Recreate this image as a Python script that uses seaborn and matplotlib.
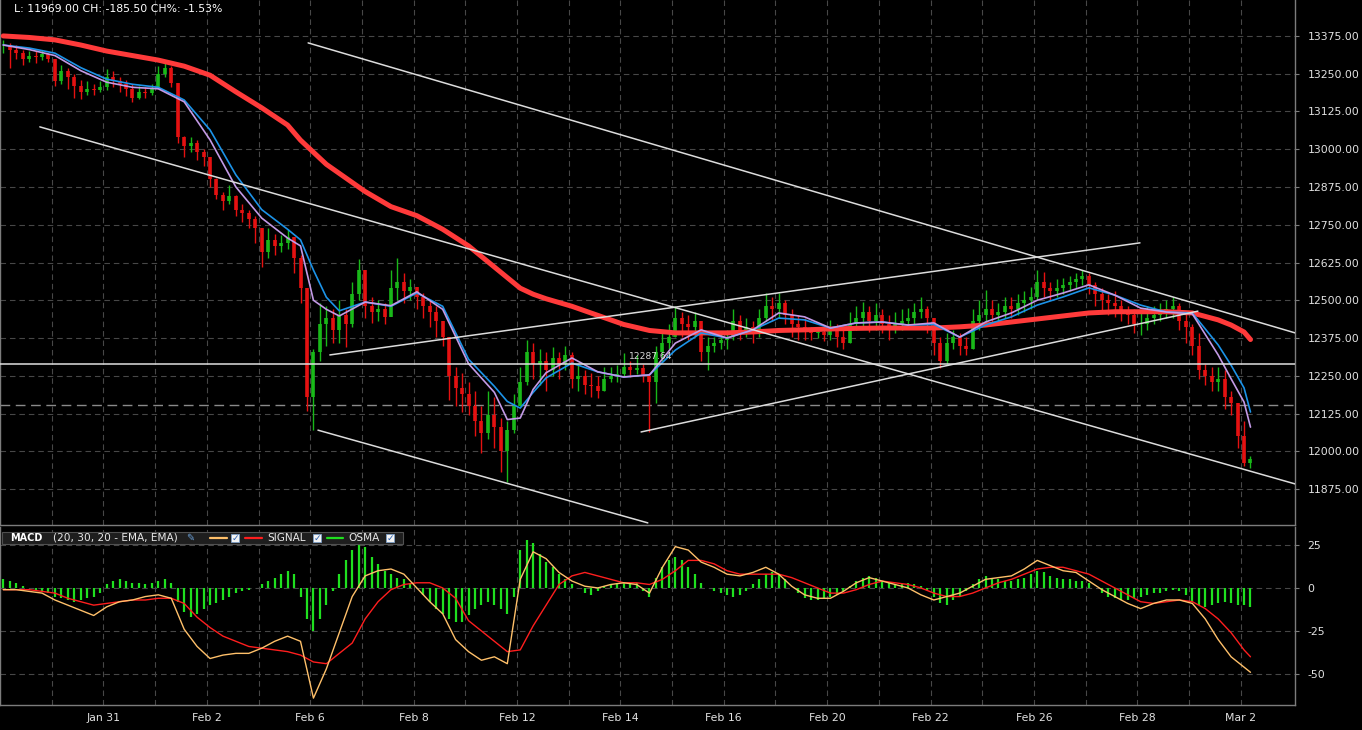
import numpy as np
import pandas as pd
import matplotlib
matplotlib.use("Agg")
import matplotlib.pyplot as plt
import seaborn as sns
from matplotlib.patches import Rectangle
from matplotlib.lines import Line2D

# ---------------- data ----------------
day_labels = ["Jan 29", "Jan 30", "Jan 31", "Feb 1", "Feb 2", "Feb 5", "Feb 6", "Feb 7",
              "Feb 8", "Feb 9", "Feb 12", "Feb 13", "Feb 14", "Feb 15", "Feb 16", "Feb 19",
              "Feb 20", "Feb 21", "Feb 22", "Feb 23", "Feb 26", "Feb 27", "Feb 28", "Mar 1", "Mar 2"]
bars_per_day = 8

close = [
    13345, 13330, 13320, 13300, 13310, 13305, 13315, 13300,
    13225, 13260, 13240, 13210, 13190, 13200, 13195, 13205,
    13240, 13225, 13215, 13200, 13170, 13190, 13185, 13200,
    13250, 13270, 13220, 13040, 13010, 13020, 12990, 12975,
    12900, 12850, 12830, 12845, 12800, 12790, 12770, 12740,
    12660, 12700, 12680, 12690, 12710, 12640, 12540, 12180,
    12330, 12420, 12440, 12400, 12450, 12420, 12520, 12600,
    12480, 12460, 12470, 12445, 12540, 12560, 12530, 12545,
    12510, 12480, 12460, 12430, 12380, 12250, 12210, 12190,
    12150, 12100, 12060, 12120, 12080, 12000, 12070, 12150,
    12230, 12330, 12290, 12300, 12270, 12310, 12290, 12320,
    12240, 12250, 12220, 12215, 12200, 12240, 12250, 12255,
    12280, 12270, 12275, 12250, 12230, 12330, 12360, 12380,
    12440, 12420, 12410, 12430, 12330, 12350, 12360, 12370,
    12380, 12430, 12400, 12410, 12390, 12440, 12480, 12470,
    12490, 12450, 12420, 12410, 12400, 12390, 12395, 12385,
    12410, 12380, 12360, 12420, 12440, 12460, 12430, 12450,
    12420, 12400, 12420, 12430, 12440, 12460, 12470, 12440,
    12360, 12300, 12360, 12380, 12350, 12340, 12430, 12450,
    12470, 12450, 12460, 12480, 12470, 12490, 12500, 12510,
    12560, 12540, 12530, 12540, 12550, 12560, 12570, 12580,
    12550, 12520, 12500, 12490, 12480, 12460, 12450, 12420,
    12420, 12440, 12450, 12460, 12470, 12480, 12430, 12410,
    12350, 12270, 12250, 12230, 12240, 12180, 12160, 12050,
    11960, 11975,
]
high = [
    13360, 13350, 13345, 13330, 13325, 13325, 13330, 13320,
    13300, 13280, 13270, 13250, 13230, 13225, 13215, 13225,
    13265, 13260, 13240, 13230, 13215, 13210, 13205, 13215,
    13275, 13290, 13275, 13220, 13045, 13040, 13030, 13000,
    12960, 12905, 12860, 12880, 12850, 12820, 12800, 12780,
    12735, 12740, 12720, 12715, 12735, 12700, 12650, 12540,
    12340, 12490, 12480, 12470, 12500, 12470, 12560, 12635,
    12560, 12510, 12500, 12490, 12600, 12640, 12590, 12570,
    12545, 12525, 12500, 12480, 12430, 12320, 12280, 12260,
    12230, 12200, 12150, 12200, 12180, 12110, 12100, 12190,
    12280, 12370, 12360, 12340, 12330, 12345, 12330, 12350,
    12330, 12290, 12270, 12260, 12250, 12280, 12280, 12285,
    12325, 12300, 12320, 12290, 12260, 12350, 12390, 12420,
    12480, 12460, 12450, 12460, 12420, 12380, 12380, 12390,
    12400, 12470, 12450, 12440, 12430, 12470, 12525, 12510,
    12525, 12500, 12470, 12450, 12440, 12410, 12410, 12405,
    12435, 12420, 12400, 12460, 12480, 12495, 12480, 12490,
    12470, 12450, 12460, 12470, 12475, 12490, 12510, 12480,
    12410, 12380, 12390, 12400, 12390, 12380, 12470, 12500,
    12535, 12500, 12490, 12510, 12510, 12520, 12530, 12545,
    12600, 12595, 12560, 12570, 12575, 12580, 12590, 12600,
    12590, 12560, 12540, 12520, 12530, 12500, 12480, 12470,
    12460, 12480, 12480, 12490, 12500, 12510, 12490, 12460,
    12420, 12390, 12290, 12280, 12280, 12270, 12200, 12150,
    12100, 11985,
]
low = [
    13320, 13270, 13300, 13280, 13290, 13285, 13295, 13290,
    13210, 13215, 13200, 13170, 13165, 13180, 13180, 13190,
    13195, 13205, 13190, 13175, 13155, 13165, 13170, 13180,
    13215, 13240, 13205, 13020, 12975, 12990, 12965, 12945,
    12875, 12835, 12800, 12820, 12780, 12760, 12740, 12690,
    12610, 12640, 12650, 12660, 12670, 12590, 12490, 12135,
    12070, 12300, 12350, 12360, 12360, 12345, 12410, 12500,
    12440, 12425, 12430, 12420, 12480, 12500, 12490, 12500,
    12470, 12440, 12410, 12380, 12350, 12170, 12150, 12130,
    12120, 12050, 11995, 12040, 12010, 11930, 11900, 12060,
    12150, 12220, 12240, 12220, 12200, 12250, 12240, 12270,
    12210, 12200, 12190, 12180, 12175, 12200, 12230, 12230,
    12250, 12245, 12255, 12230, 12065, 12160, 12300, 12340,
    12380, 12380, 12370, 12380, 12300, 12270, 12330, 12340,
    12340, 12370, 12370, 12380, 12360, 12380, 12430, 12430,
    12440, 12420, 12380, 12370, 12370, 12370, 12375, 12365,
    12370, 12345, 12340, 12360, 12400, 12410, 12395, 12400,
    12390, 12370, 12390, 12400, 12410, 12420, 12440, 12390,
    12320, 12275, 12290, 12340, 12320, 12320, 12340, 12400,
    12420, 12420, 12430, 12440, 12440, 12450, 12460, 12470,
    12500, 12510, 12500, 12510, 12520, 12530, 12540, 12550,
    12520, 12480, 12460, 12450, 12445, 12430, 12420, 12390,
    12385, 12400, 12420, 12430, 12440, 12440, 12400, 12360,
    12320, 12240, 12220, 12200, 12200, 12140, 12120, 12010,
    11950, 11945,
]

# moving averages sampled at these bar numbers
ma_bar = [0, 4, 8, 12, 16, 20, 24, 28, 32, 36, 40, 44,
          46, 48, 50,
          52, 56, 60, 64, 68, 72, 76,
          78, 80, 82,
          84, 88, 92, 96, 100, 104, 108, 112, 116, 120, 124, 128, 132, 136,
          140, 144, 148, 152, 156, 160, 164, 168, 172, 176, 180, 184, 188,
          190, 192, 193]
ma_slow = [13375, 13370, 13362, 13345, 13325, 13310, 13295, 13275, 13245, 13190, 13137, 13080,
           13030, 12990, 12950,
           12920, 12860, 12810, 12780, 12735, 12680, 12610,
           12575, 12540, 12520,
           12505, 12480, 12450, 12420, 12400, 12392, 12392, 12392, 12395, 12400, 12402, 12405, 12407, 12408,
           12408, 12408, 12412, 12418, 12428, 12438, 12448, 12458, 12462, 12462, 12462, 12458, 12435,
           12418, 12395, 12370]
ema_blue = [13345, 13335, 13318, 13270, 13232, 13215, 13205, 13163, 13064, 12915, 12800, 12735,
            12700, 12600, 12510,
            12465, 12494, 12480, 12524, 12480, 12305, 12215,
            12165, 12143, 12195,
            12243, 12292, 12263, 12246, 12253, 12335, 12392, 12375, 12402, 12441, 12435, 12408, 12425, 12428,
            12418, 12420, 12378, 12418, 12445, 12484, 12511, 12541, 12517, 12484, 12461, 12458, 12352,
            12285, 12210, 12130]
ema_violet = [13345, 13330, 13310, 13260, 13222, 13205, 13200, 13157, 13031, 12875, 12772, 12706,
              12680, 12500, 12470,
              12448, 12494, 12482, 12528, 12470, 12290, 12195,
              12105, 12110, 12205,
              12260, 12309, 12263, 12246, 12253, 12358, 12402, 12375, 12402, 12458, 12445, 12408, 12425, 12428,
              12418, 12425, 12378, 12428, 12458, 12500, 12524, 12551, 12517, 12474, 12461, 12455, 12319,
              12240, 12163, 12080]

# MACD (20, 30, 20) lines sampled every 2 bars (plus the last bar)
macd_line = [-1, -1, -2, -3, -7, -10, -13, -16, -11, -8,
             -7, -5, -4, -6, -24, -34, -41, -39, -38, -38,
             -35, -31, -28, -31, -64, -47, -26, -5, 7, 10,
             11, 8, 0, -8, -15, -30, -37, -42, -40, -44,
             5, 21, 17, 9, 4, 1, 0, 2, 3, 2,
             -3, 12, 24, 22, 15, 12, 8, 7, 9, 12,
             8, 1, -4, -6, -6, -2, 3, 6, 4, 2,
             0, -4, -7, -5, -3, 1, 5, 6, 7, 11,
             16, 13, 10, 9, 4, -1, -5, -9, -12, -9,
             -7, -7, -9, -18, -30, -40, -46, -49]
signal_line = [-1, -1, -1, -2, -3, -6, -8, -10, -9, -8,
               -7, -7, -6, -6, -9, -17, -23, -28, -31, -34,
               -35, -36, -37, -39, -43, -44, -38, -32, -18, -8,
               -1, 2, 3, 3, 0, -6, -19, -25, -31, -37,
               -36, -22, -10, 2, 7, 9, 7, 5, 3, 3,
               2, 5, 10, 16, 16, 14, 10, 8, 8, 8,
               8, 6, 3, 0, -3, -3, -1, 2, 4, 3,
               2, 0, -3, -5, -5, -3, 0, 3, 5, 8,
               11, 12, 12, 10, 8, 4, 0, -4, -8, -9,
               -8, -7, -8, -12, -18, -26, -36, -40]
# OSMA histogram, one value per bar
osma = [
    5, 4, 3, 1, 0, -1, -2, -3,
    -5, -6, -7, -8, -7, -6, -5, -3,
    2, 4, 5, 4, 3, 3, 2, 3,
    4, 5, 3, -8, -14, -17, -15, -12,
    -10, -9, -7, -5, -3, -2, -1, 0,
    2, 4, 6, 8, 10, 8, -5, -18,
    -25, -18, -10, -2, 8, 16, 22, 26,
    24, 18, 14, 10, 8, 6, 5, 3,
    0, -4, -8, -12, -15, -18, -20, -20,
    -16, -12, -10, -8, -10, -12, -15, -5,
    22, 28, 26, 20, 15, 12, 8, 5,
    2, 0, -3, -4, -2, 1, 2, 3,
    3, 2, 3, -2, -5, 6, 12, 16,
    18, 16, 12, 8, 3, 0, -2, -3,
    -4, -5, -4, -2, 2, 5, 8, 9,
    8, 5, 0, -3, -6, -7, -7, -6,
    -5, -4, -2, 1, 4, 6, 7, 6,
    4, 3, 2, 2, 3, 2, 1, -1,
    -5, -9, -10, -7, -5, -2, 2, 5,
    7, 6, 5, 4, 4, 5, 6, 8,
    10, 9, 7, 6, 5, 5, 4, 4,
    3, 0, -3, -5, -6, -7, -7, -6,
    -5, -4, -3, -3, -2, -1, -2, -4,
    -8, -10, -11, -10, -9, -8, -9, -10,
    -10, -11,
]

# drawn trend lines: (day0, price0, day1, price1)
trend_lines = [
    (5.96, 13352, 25.05, 12392),
    (0.77, 13074, 25.05, 11892),
    (6.15, 12070, 12.53, 11763),
    (6.38, 12319, 22.05, 12690),
    (12.40, 12064, 23.17, 12464),
]
hline_level = 12287.64
prev_close = 12154.5
header_text = "L: 11969.00 CH: -185.50 CH%: -1.53%"
price_ticks = [11875, 12000, 12125, 12250, 12375, 12500, 12625, 12750, 12875, 13000, 13125, 13250, 13375]
macd_ticks = [25, 0, -25, -50]

# ---------------- figure ----------------
sns.set_theme(style="dark")
plt.rcParams["font.family"] = ["DejaVu Sans"]
W, H = 1362, 730
fig = plt.figure(figsize=(W / 100, H / 100), dpi=100, facecolor="black")

def fx(px):
    return px / W

def fy(py):
    return 1 - py / H

ax = fig.add_axes([0, fy(525), fx(1295), 525 / H])
axm = fig.add_axes([0, fy(705), fx(1295), (705 - 527) / H])

grid_col = "#474747"
spine_col = "#7c7c7c"
txt_col = "#e2e2e2"

for a in (ax, axm):
    a.set_facecolor("black")
    for s in a.spines.values():
        s.set_color(spine_col)
        s.set_linewidth(1.0)
    a.spines["top"].set_visible(False)
    a.set_xlim(0, 1295 / 51.7)
    a.set_xticks(np.arange(1, 25))
    a.grid(True, color=grid_col, linestyle=(0, (5, 3.5)), linewidth=0.8)
    a.set_axisbelow(True)
    a.yaxis.tick_right()
    a.tick_params(axis="y", colors=spine_col, labelcolor=txt_col, labelsize=7.8,
                  length=3, width=0.8, pad=6, direction="out")

n = len(close)
xb = (np.arange(n) + 0.5) / bars_per_day
ma_x = (np.array(ma_bar) + 0.5) / bars_per_day
macd_x = (np.array(list(range(0, n - 1, 2)) + [n - 1]) + 0.5) / bars_per_day

# ---- price panel ----
c = np.array(close, float)
o = np.r_[c[0], c[:-1]]
up = c >= o
cols = np.where(up, "#19b819", "#e51111")
ax.vlines(xb, low, high, colors=cols, linewidth=1.0, zorder=3)
ax.vlines(xb, np.minimum(o, c), np.maximum(o, c), colors=cols, linewidth=2.6, zorder=3)

df_ma = pd.DataFrame({"x": ma_x, "slow": ma_slow, "blue": ema_blue, "violet": ema_violet})
sns.lineplot(data=df_ma, x="x", y="slow", ax=ax, color="#ff3a3a", linewidth=3.6, zorder=5, legend=False)
sns.lineplot(data=df_ma, x="x", y="blue", ax=ax, color="#1c93e8", linewidth=1.2, zorder=6, legend=False)
sns.lineplot(data=df_ma, x="x", y="violet", ax=ax, color="#c39ae6", linewidth=1.2, zorder=6, legend=False)

for (x0, p0, x1, p1) in trend_lines:
    ax.plot([x0, x1], [p0, p1], color="#dcdcdc", linewidth=1.1, zorder=7)
ax.axhline(hline_level, color="#e0e0e0", linewidth=1.1, zorder=7)
ax.axhline(prev_close, color="#8a8a8a", linewidth=1.0, linestyle=(0, (7, 4)), zorder=2)
ax.text(12.17, hline_level + 10, f"{hline_level:.2f}", color="#d8d8d8", fontsize=6.6,
        ha="left", va="bottom", zorder=8)

ax.set_ylim(11756, 13494)
ax.set_yticks(price_ticks)
ax.set_yticklabels([f"{t:.2f}" for t in price_ticks])
ax.tick_params(axis="x", length=0, labelbottom=False)
ax.set_xlabel("")
ax.set_ylabel("")

fig.text(fx(14), fy(9), header_text, color="white", fontsize=7.8, ha="left", va="center")

# ---- MACD panel ----
axm.vlines(xb, 0, osma, colors="#1fe01f", linewidth=1.6, zorder=3)
df_macd = pd.DataFrame({"x": macd_x, "macd": macd_line, "signal": signal_line})
sns.lineplot(data=df_macd, x="x", y="signal", ax=axm, color="#ff1e1e", linewidth=1.0, zorder=4, legend=False)
sns.lineplot(data=df_macd, x="x", y="macd", ax=axm, color="#ffc06a", linewidth=1.0, zorder=5, legend=False)
axm.set_ylim(-68.0, 35.4)
axm.set_yticks(macd_ticks)
axm.set_yticklabels([str(t) for t in macd_ticks])
axm.set_xticklabels([day_labels[d] if d % 2 == 0 else "" for d in range(1, 25)])
axm.tick_params(axis="x", colors=spine_col, labelcolor=txt_col, labelsize=7.8,
                length=5, width=0.8, direction="in", pad=6)
axm.set_xlabel("")
axm.set_ylabel("")

# MACD header bar
fig.patches.append(Rectangle((fx(2), fy(544)), fx(401), 12 / H, transform=fig.transFigure,
                             facecolor="#1e1e1e", edgecolor="#505050", linewidth=0.8, zorder=10))
ty = fy(538)
fig.text(fx(10), ty, "MACD", color="white", fontsize=7, fontweight="bold", ha="left", va="center", zorder=11)
fig.text(fx(53), ty, "(20, 30, 20 - EMA, EMA)", color="#e8e8e8", fontsize=7.6, ha="left", va="center", zorder=11)
fig.text(fx(186), ty, "\u270e", color="#6aa0d8", fontsize=7, ha="left", va="center", zorder=11)

def legend_line(x0, x1, col):
    fig.lines.append(Line2D([fx(x0), fx(x1)], [ty, ty], transform=fig.transFigure,
                            color=col, linewidth=1.6, zorder=11))

def checkbox(x0):
    fig.patches.append(Rectangle((fx(x0), fy(542)), fx(8), 8 / H, transform=fig.transFigure,
                                 facecolor="#f4f4f4", edgecolor="#7d9fc8", linewidth=0.6, zorder=11))
    fig.text(fx(x0 + 4), fy(538), "\u2713", color="#2a5fb0", fontsize=6.5, fontweight="bold",
             ha="center", va="center", zorder=12)

legend_line(210, 227, "#ffc06a")
checkbox(231)
legend_line(245, 262, "#ff1e1e")
fig.text(fx(267), ty, "SIGNAL", color="#e8e8e8", fontsize=7.6, ha="left", va="center", zorder=11)
checkbox(313)
legend_line(327, 343, "#1fe01f")
fig.text(fx(348), ty, "OSMA", color="#e8e8e8", fontsize=7.6, ha="left", va="center", zorder=11)
checkbox(386)

fig.savefig("out.png", dpi=100, facecolor="black")
